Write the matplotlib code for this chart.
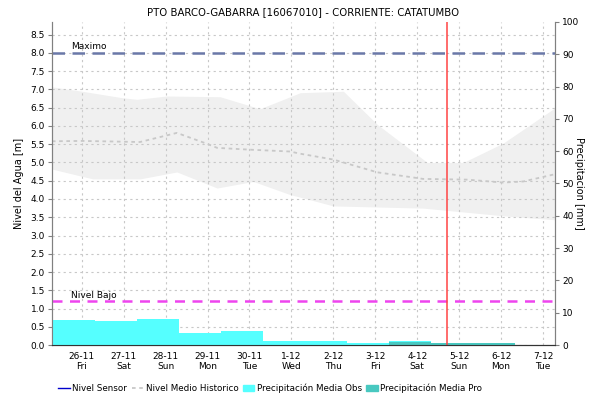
import matplotlib
matplotlib.use("Agg")
import matplotlib.pyplot as plt
from matplotlib.patches import Patch
from matplotlib.lines import Line2D

# x is in days from the start of the window (25-11 07:00)
tick_pos = [0.71 + i for i in range(12)]
tick_labels = ["26-11\nFri", "27-11\nSat", "28-11\nSun", "29-11\nMon", "30-11\nTue", "1-12\nWed",
               "2-12\nThu", "3-12\nFri", "4-12\nSat", "5-12\nSun", "6-12\nMon", "7-12\nTue"]

# historical band (max / min) and mean level [m]
band_up_x = [0, 0.72, 1.69, 2.03, 2.74, 4.01, 4.96, 5.92, 6.95, 7.76, 8.95, 9.81, 10.76, 12.0]
band_up_y = [7.07, 6.95, 6.77, 6.73, 6.82, 6.80, 6.47, 6.91, 6.95, 6.04, 5.00, 5.00, 5.53, 6.50]
band_lo_x = [0, 0.72, 0.98, 2.1, 2.98, 3.94, 4.8, 5.68, 5.92, 6.71, 8.85, 9.67, 10.76, 12.0]
band_lo_y = [4.82, 4.62, 4.55, 4.55, 4.74, 4.30, 4.48, 4.12, 4.05, 3.81, 3.75, 3.66, 3.54, 3.43]
mean_x = [0, 0.72, 2.1, 2.98, 3.7, 3.94, 4.73, 5.68, 5.92, 6.71, 7.76, 8.85, 9.9, 10.76, 11.24, 12.0]
mean_y = [5.58, 5.59, 5.56, 5.81, 5.51, 5.40, 5.35, 5.30, 5.24, 5.08, 4.73, 4.55, 4.53, 4.45, 4.48, 4.68]

# daily precipitation [mm], bars start at day boundaries
bar_start = [-0.97 + k for k in range(12)]
precip_obs = [20, 7.7, 7.4, 8.0, 3.7, 4.3, 1.2, 1.2, 0.6, 1.2, 0.3, 0]
precip_pro = [0, 0, 0, 0, 0, 0, 0, 0, 0, 0.8, 0.5, 0.6]

nivel_max = 8.0
nivel_bajo = 1.2
now_x = 9.42

fig = plt.figure(figsize=(5.9, 4.05), dpi=100)
ax = fig.add_axes([0.088, 0.148, 0.853, 0.798])
ax2 = ax.twinx()

ax.fill_between(band_up_x, band_up_y, 0, color="#f0f0f0", lw=0)
ax.fill_between(band_lo_x, band_lo_y, 0, color="white", lw=0)
ax.plot(mean_x, mean_y, color="#c8c8c8", lw=1.3, ls=(0, (2, 2)))

ax2.bar(bar_start, precip_obs, width=1.0, align="edge", color="#55ffff", lw=0)
ax2.bar(bar_start, precip_pro, width=1.0, align="edge", color="#48c8c0", lw=0)

ax2.plot([0, 12], [nivel_max, nivel_max], transform=ax.transData, color="#6a78a8", lw=1.8, ls=(0, (5, 3)))
ax2.plot([0, 12], [nivel_bajo, nivel_bajo], transform=ax.transData, color="#ee44ee", lw=1.8, ls=(0, (4, 3)))
ax2.axvline(now_x, color="#ff4444", lw=1.1)
ax2.text(0.45, nivel_max + 0.04, "Maximo", transform=ax.transData, fontsize=6.5, va="bottom")
ax2.text(0.45, nivel_bajo + 0.04, "Nivel Bajo", transform=ax.transData, fontsize=6.5, va="bottom")

ax.set_xlim(0, 12)
ax.set_ylim(0, 8.85)
ax2.set_ylim(0, 100)
ax.set_yticks([i * 0.5 for i in range(18)])
ax.set_yticklabels(["%.1f" % (i * 0.5) for i in range(18)])
ax2.set_yticks(range(0, 101, 10))
ax.set_xticks(tick_pos)
ax.set_xticklabels(tick_labels)

ax.grid(True, color="#c8c8c8", ls=(0, (2, 3)), lw=0.8)
for a in (ax, ax2):
    a.spines["top"].set_visible(False)
    a.spines["left"].set_color("#808080")
    a.spines["right"].set_color("#808080")
    a.spines["bottom"].set_color("#333333")
    a.spines["bottom"].set_linestyle((0, (1, 1)))
    a.tick_params(labelsize=6.5, length=3, color="#808080", pad=2)
ax.tick_params(axis="x", length=0, pad=5)

ax.set_ylabel("Nivel del Agua [m]", fontsize=7, labelpad=5)
fig.text(0.982, 0.547, "Precipitacion [mm]", fontsize=7, rotation=270, ha="center", va="center")
ax.set_title("PTO BARCO-GABARRA [16067010] - CORRIENTE: CATATUMBO", fontsize=7.3, pad=5)

handles = [Line2D([], [], color="#0000cc", lw=1),
           Line2D([], [], color="#c8c8c8", lw=1.3, ls=(0, (2, 2))),
           Patch(color="#55ffff"), Patch(color="#48c8c0")]
labels = ["Nivel Sensor", "Nivel Medio Historico", "Precipitación Media Obs", "Precipitación Media Pro"]
fig.legend(handles, labels, loc="center", bbox_to_anchor=(0.458, 0.042), ncol=4, frameon=False,
           fontsize=6.3, handlelength=1.3, handletextpad=0.3, columnspacing=0.5)

fig.savefig("out.png", dpi=100)
